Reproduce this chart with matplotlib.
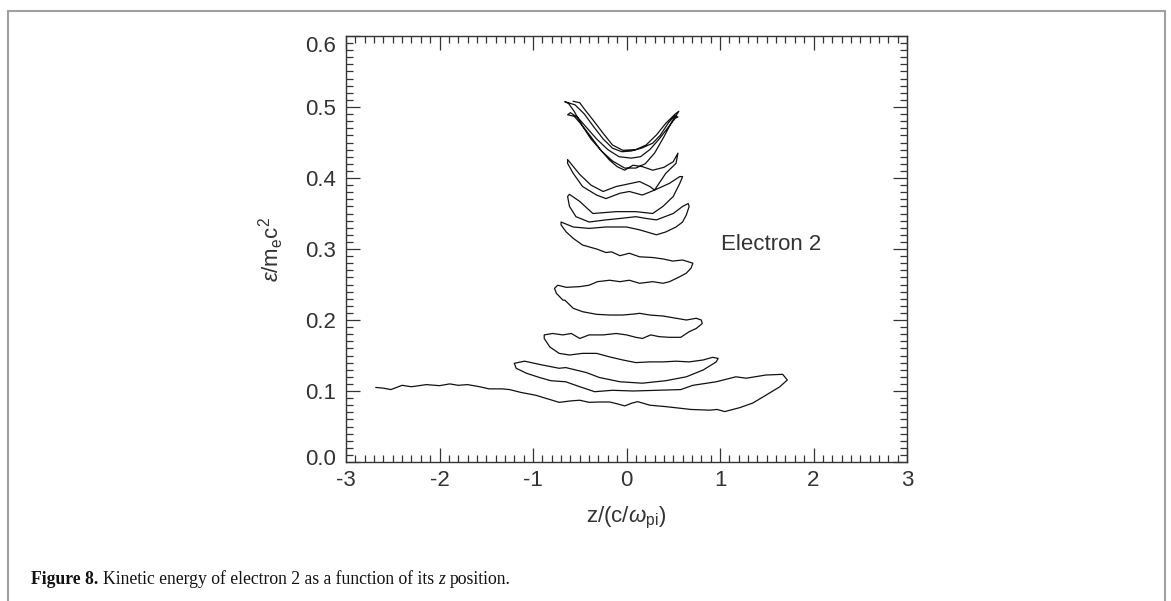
import matplotlib
matplotlib.use("Agg")
import matplotlib.pyplot as plt
from matplotlib.patches import Rectangle
from matplotlib.ticker import MultipleLocator
from matplotlib.transforms import ScaledTranslation

plt.rcParams['font.family'] = ['Liberation Sans', 'DejaVu Sans']
plt.rcParams['mathtext.fontset'] = 'custom'
plt.rcParams['mathtext.rm'] = 'Liberation Sans'
plt.rcParams['mathtext.it'] = 'Liberation Sans:italic'

# trajectory of electron 2: position z (c/omega_pi) and kinetic energy (m_e c^2)
z_pos = [
    -2.68, -2.60, -2.52, -2.40, -2.30, -2.14, -2.00, -1.89, -1.80, -1.70,
    -1.57, -1.47, -1.33, -1.25, -1.13, -0.97, -0.82, -0.72, -0.60, -0.50,
    -0.40, -0.29, -0.18, -0.10, -0.02, 0.06, 0.12, 0.25, 0.42, 0.55,
    0.69, 0.89, 0.97, 1.05, 1.21, 1.35, 1.49, 1.64, 1.72,
    1.67, 1.49, 1.28, 1.17, 0.96, 0.71, 0.58, 0.32, 0.07, -0.15,
    -0.34, -0.50, -0.65, -0.81, -0.93, -1.07, -1.18, -1.20,
    -1.09, -0.90, -0.72, -0.65, -0.43, -0.29, -0.07, 0.17, 0.42, 0.64,
    0.82, 0.96, 0.98,
    0.92, 0.82, 0.67, 0.53, 0.39, 0.25, 0.10, -0.04, -0.18, -0.32,
    -0.47, -0.61, -0.72, -0.82, -0.88,
    -0.88, -0.79, -0.68, -0.59, -0.50, -0.40, -0.25, -0.11, 0.00, 0.10,
    0.17, 0.26, 0.35, 0.46, 0.58, 0.67, 0.745, 0.81,
    0.80, 0.745, 0.64, 0.53, 0.39, 0.25, 0.14, 0.085, -0.04, -0.18,
    -0.32, -0.47, -0.57, -0.66, -0.68, -0.75, -0.77,
    -0.735, -0.645, -0.50, -0.40, -0.31, -0.18, -0.07, 0.03, 0.14, 0.28,
    0.39, 0.46, 0.57, 0.64, 0.69, 0.71,
    0.60, 0.495, 0.39, 0.28, 0.14, 0.03, -0.07, -0.16, -0.22, -0.32,
    -0.47, -0.57, -0.645, -0.70,
    -0.70, -0.57, -0.40, -0.22, 0.00, 0.14, 0.32, 0.42, 0.53, 0.60,
    0.64, 0.67, 0.66,
    0.60, 0.50, 0.32, 0.21, 0.10, -0.07, -0.22, -0.40, -0.54, -0.61,
    -0.63, -0.61,
    -0.50, -0.36, -0.11, 0.10, 0.28, 0.39, 0.50, 0.57, 0.60,
    0.57, 0.46, 0.30, 0.17, 0.03, -0.07, -0.22, -0.32, -0.47, -0.57,
    -0.63, -0.63,
    -0.50, -0.38, -0.25, -0.11, 0.14, 0.25, 0.30, 0.42, 0.53, 0.55,
    0.50, 0.40, 0.28, 0.17, 0.07, -0.02, -0.10, -0.18, -0.28, -0.38,
    -0.48, -0.56, -0.63,
    -0.60, -0.52, -0.42, -0.32, -0.20, -0.08, 0.05, 0.15, 0.25, 0.35,
    0.45, 0.52, 0.55,
    0.52, 0.45, 0.36, 0.28, 0.16, 0.05, -0.05, -0.15, -0.25, -0.35,
    -0.45, -0.55, -0.66,
    -0.62, -0.56, -0.48, -0.38, -0.26, -0.15, -0.02, 0.10, 0.20, 0.30,
    0.40, 0.48, 0.56,
    0.52, 0.42, 0.32, 0.21, 0.10, -0.04, -0.15, -0.25, -0.36, -0.45,
    -0.50, -0.57,
]
energy = [
    0.105, 0.104, 0.102, 0.108, 0.106, 0.109, 0.1075, 0.110, 0.108, 0.109,
    0.106, 0.103, 0.103, 0.102, 0.098, 0.094, 0.088, 0.084, 0.086, 0.087,
    0.084, 0.0845, 0.0845, 0.082, 0.079, 0.083, 0.085, 0.080, 0.078, 0.076,
    0.074, 0.073, 0.074, 0.071, 0.0765, 0.083, 0.094, 0.106, 0.1155,
    0.1235, 0.1225, 0.118, 0.120, 0.113, 0.108, 0.102, 0.101, 0.100, 0.101,
    0.099, 0.106, 0.113, 0.1145, 0.119, 0.125, 0.132, 0.139,
    0.142, 0.1366, 0.132, 0.133, 0.126, 0.119, 0.113, 0.111, 0.1145, 0.120,
    0.1296, 0.141, 0.146,
    0.1474, 0.1437, 0.141, 0.142, 0.141, 0.141, 0.140, 0.1437, 0.148, 0.153,
    0.153, 0.1507, 0.153, 0.162, 0.174,
    0.179, 0.181, 0.179, 0.181, 0.174, 0.179, 0.179, 0.181, 0.179, 0.1756,
    0.174, 0.179, 0.1765, 0.1756, 0.1756, 0.1835, 0.188, 0.195,
    0.200, 0.2024, 0.200, 0.2024, 0.2056, 0.207, 0.2094, 0.2085, 0.207, 0.207,
    0.208, 0.2117, 0.2165, 0.228, 0.228, 0.2376, 0.2446,
    0.249, 0.246, 0.247, 0.249, 0.254, 0.256, 0.254, 0.256, 0.2517, 0.254,
    0.2517, 0.254, 0.261, 0.266, 0.273, 0.280,
    0.2845, 0.283, 0.286, 0.288, 0.289, 0.294, 0.2906, 0.296, 0.295, 0.300,
    0.3056, 0.315, 0.324, 0.334,
    0.338, 0.331, 0.329, 0.331, 0.331, 0.327, 0.320, 0.324, 0.331, 0.338,
    0.348, 0.360, 0.364,
    0.360, 0.350, 0.341, 0.343, 0.3455, 0.343, 0.341, 0.338, 0.3455, 0.360,
    0.374, 0.377,
    0.367, 0.350, 0.3526, 0.3526, 0.350, 0.360, 0.374, 0.3925, 0.402,
    0.402, 0.3925, 0.383, 0.376, 0.381, 0.3785, 0.371, 0.376, 0.388, 0.4066,
    0.4207, 0.426,
    0.405, 0.390, 0.381, 0.388, 0.395, 0.388, 0.383, 0.4066, 0.4207, 0.435,
    0.423, 0.415, 0.411, 0.416, 0.418, 0.411, 0.416, 0.425, 0.440, 0.458,
    0.475, 0.487, 0.489,
    0.492, 0.485, 0.470, 0.455, 0.440, 0.430, 0.428, 0.430, 0.440, 0.455,
    0.472, 0.484, 0.486,
    0.488, 0.478, 0.460, 0.449, 0.442, 0.438, 0.437, 0.442, 0.455, 0.472,
    0.490, 0.503, 0.5075,
    0.505, 0.494, 0.475, 0.455, 0.437, 0.424, 0.414, 0.414, 0.420, 0.435,
    0.458, 0.478, 0.494,
    0.490, 0.477, 0.4606, 0.4465, 0.440, 0.439, 0.4465, 0.463, 0.482, 0.497,
    0.506, 0.508,
]

x_ticks = [-3, -2, -1, 0, 1, 2, 3]
y_ticks = [0.0, 0.1, 0.2, 0.3, 0.4, 0.5, 0.6]

W, H = 1171, 601
fig = plt.figure(figsize=(W / 100, H / 100), dpi=100)
ax = fig.add_axes([346 / W, 1 - 462 / H, (907 - 346) / W, (462 - 36) / H])

ax.plot(z_pos, energy, color='#111111', lw=0.9)

ax.set_xlim(-3, 3)
ax.set_ylim(0, 0.6)
ax.set_xticks(x_ticks)
ax.set_yticks(y_ticks)
ax.set_xticklabels([str(t) for t in x_ticks])
ax.set_yticklabels([f"{t:.1f}" for t in y_ticks])
ax.xaxis.set_minor_locator(MultipleLocator(0.1))
ax.yaxis.set_minor_locator(MultipleLocator(0.01))
ax.tick_params(which='both', direction='in', top=True, right=True,
               color='#333333', width=0.9, labelsize=16, labelcolor='#333333')
ax.tick_params(which='major', length=10)
ax.tick_params(which='minor', length=5)
ax.tick_params(axis='x', which='major', pad=6)
ax.tick_params(axis='y', which='major', pad=7)
for s in ax.spines.values():
    s.set_color('#333333')
    s.set_linewidth(1.0)

ax.set_xlabel(r'z/(c/$\omega_{\rm pi}$)', fontsize=16, color='#333333', labelpad=10)
ax.set_ylabel(r'$\varepsilon$/m$_{\rm e}$c$^2$', fontsize=16, color='#333333', labelpad=14)

ax.text(0.669, 0.498, 'Electron 2', transform=ax.transAxes, fontsize=16,
        color='#333333', ha='left', va='baseline')

# figure frame
fig.patches.append(Rectangle((7.5 / W, -0.01), (1165 - 7.5) / W, 1 - 10.7 / H + 0.01,
                             transform=fig.transFigure, fill=False,
                             edgecolor='#a0a0a0', lw=1.5))

# caption
renderer = fig.canvas.get_renderer()
pieces = [("Figure 8.", dict(weight='bold')),
          ("Kinetic energy of electron 2 as a function of its", {}),
          ("z", dict(style='italic')),
          ("position.", {})]
x = 31
for txt, kw in pieces:
    t = fig.text(x / W, 1 - 584 / H, txt, family='Liberation Serif', fontsize=12.7,
                 color='#111111', va='baseline', **kw)
    bb = t.get_window_extent(renderer)
    x = bb.x1 + 4.5

# end labels of the y axis sit a little inside the axis range
fig.canvas.draw()
ylabels = ax.get_yticklabels()
ylabels[0].set_transform(ylabels[0].get_transform() + ScaledTranslation(0, 5 / 100, fig.dpi_scale_trans))
ylabels[-1].set_transform(ylabels[-1].get_transform() + ScaledTranslation(0, -8 / 100, fig.dpi_scale_trans))

fig.savefig('out.png', dpi=100)
